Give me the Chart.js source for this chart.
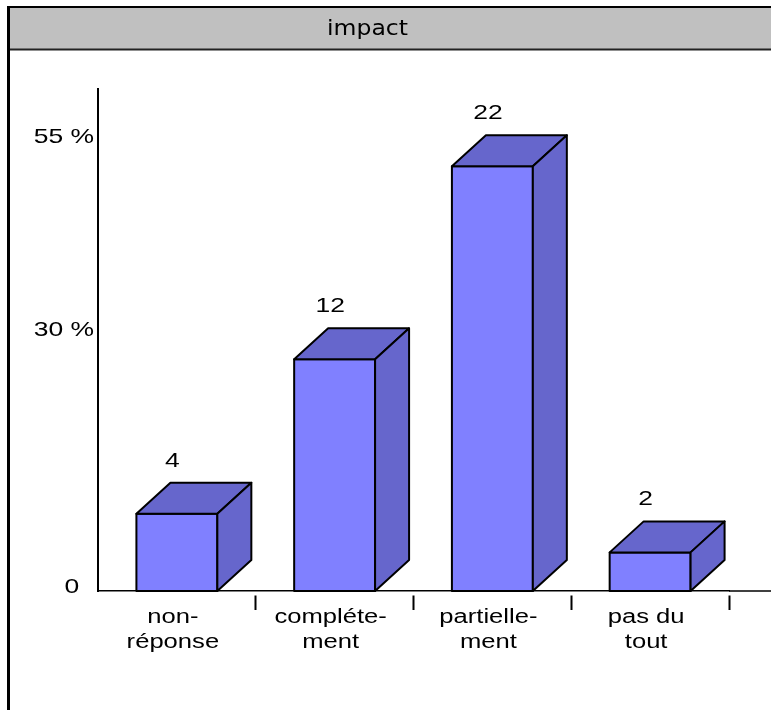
<!DOCTYPE html>
<html><head><meta charset="utf-8">
<script src="https://cdn.jsdelivr.net/npm/chart.js@4/dist/chart.umd.min.js"></script>
<style>html,body{margin:0;padding:0;background:#fff}canvas{display:block}</style>
</head><body>
<canvas id="c" width="771" height="710"></canvas>
<script>
// Data
const chartTitle = 'impact';
const categories = [['non-', 'réponse'], ['compléte-', 'ment'], ['partielle-', 'ment'], ['pas du', 'tout']];
const counts = [4, 12, 22, 2];
const yTickValues = [0, 12, 22];
const yTickLabels = ['0  ', '30 %', '55 %'];

// Look
const FRONT = '#8080FF';
const SHADE = '#6666CC';
const DX = 34, DY = 31;          // 3D depth of the boxes
const TEXT_SX = 1.26;            // wide lettering

function wideText(ctx, text, x, y, align, font, sx) {
  ctx.save();
  ctx.font = font;
  ctx.fillStyle = '#000';
  ctx.textBaseline = 'alphabetic';
  ctx.textAlign = align;
  ctx.translate(x, y);
  ctx.scale(sx, 1);
  ctx.fillText(text, 0, 0);
  ctx.restore();
}

const frame = {
  id: 'frame',
  beforeDraw(chart) {
    const ctx = chart.ctx, W = chart.width, H = chart.height;
    ctx.save();
    ctx.fillStyle = '#fff';
    ctx.fillRect(0, 0, W, H);
    // title band
    ctx.fillStyle = '#C0C0C0';
    ctx.fillRect(8, 8, W - 8, 41);
    ctx.fillStyle = '#000';
    ctx.fillRect(7, 6, W - 7, 2);
    ctx.fillStyle = '#222';
    ctx.fillRect(8, 48.5, W - 8, 2);
    // left rule
    ctx.fillStyle = '#000';
    ctx.fillRect(7, 6, 3, H - 6);
    ctx.restore();
    wideText(ctx, chartTitle, 367.5, 35, 'center', '21px "DejaVu Sans"', 1.12);
  },
  afterDatasetsDraw(chart) {
    const ctx = chart.ctx;
    const area = chart.chartArea;
    // baseline runs to the right edge
    ctx.save();
    ctx.strokeStyle = '#000';
    ctx.lineWidth = 1.5;
    ctx.beginPath();
    ctx.moveTo(area.right, area.bottom);
    ctx.lineTo(chart.width, area.bottom);
    ctx.stroke();
    ctx.restore();

    const meta = chart.getDatasetMeta(0);
    ctx.save();
    ctx.lineWidth = 2;
    ctx.lineJoin = 'round';
    ctx.strokeStyle = '#000';
    meta.data.forEach((el, i) => {
      const p = el.getProps(['x', 'y', 'base', 'width'], true);
      const l = p.x - p.width / 2, r = p.x + p.width / 2, t = p.y, b = p.base;
      // front outline
      ctx.strokeRect(l, t, r - l, b - t);
      // top face
      ctx.fillStyle = SHADE;
      ctx.beginPath();
      ctx.moveTo(l, t); ctx.lineTo(r, t); ctx.lineTo(r + DX, t - DY); ctx.lineTo(l + DX, t - DY); ctx.closePath();
      ctx.fill(); ctx.stroke();
      // side face
      ctx.beginPath();
      ctx.moveTo(r, t); ctx.lineTo(r + DX, t - DY); ctx.lineTo(r + DX, b - DY); ctx.lineTo(r, b); ctx.closePath();
      ctx.fill(); ctx.stroke();
      // value
      wideText(ctx, String(counts[i]), p.x - 4.5, t - DY - 16, 'center', '21px "Liberation Sans", Arial', TEXT_SX);
    });
    ctx.restore();

    // y tick labels (on the back wall for non-zero values)
    const ys = chart.scales.y;
    ys.ticks.forEach((tk, i) => {
      const py = ys.getPixelForValue(tk.value) - (tk.value > 0 ? DY : 5.5);
      wideText(ctx, yTickLabels[i], 94, py + 7.5, 'right', '21px "Liberation Sans", Arial', TEXT_SX);
    });

    // category labels
    const xs = chart.scales.x;
    categories.forEach((lines, i) => {
      const cx = xs.getPixelForValue(i) - 4;
      lines.forEach((s, j) => {
        wideText(ctx, s, cx, 623 + j * 25, 'center', '20px "Liberation Sans", Arial', 1.28);
      });
    });
  }
};

new Chart(document.getElementById('c'), {
  type: 'bar',
  data: {
    labels: categories,
    datasets: [{
      data: counts,
      backgroundColor: FRONT,
      borderWidth: 0,
      borderSkipped: false,
      barPercentage: 0.513,
      categoryPercentage: 1
    }]
  },
  options: {
    responsive: false,
    animation: false,
    devicePixelRatio: 1,
    layout: { padding: { left: 0, top: 89, right: 42, bottom: 0 } },
    plugins: { legend: { display: false }, tooltip: { enabled: false }, title: { display: false } },
    scales: {
      x: {
        offset: true,
        ticks: { display: false },
        grid: {
          offset: true,
          drawOnChartArea: false,
          drawTicks: true,
          tickLength: 19,
          tickWidth: 2,
          tickColor: (c) => c.index === 0 ? 'rgba(0,0,0,0)' : '#000',
          tickBorderDash: [0, 4, 15, 100]
        },
        border: { display: true, color: '#000', width: 1.5 },
        afterFit(scale) { scale.height = 119; }
      },
      y: {
        min: 0,
        max: 26,
        afterBuildTicks(scale) { scale.ticks = yTickValues.map(v => ({ value: v })); },
        ticks: { display: false },
        grid: { display: false },
        border: { display: true, color: '#000', width: 2 },
        afterFit(scale) { scale.width = 98; }
      }
    }
  },
  plugins: [frame]
});
</script>
</body></html>
